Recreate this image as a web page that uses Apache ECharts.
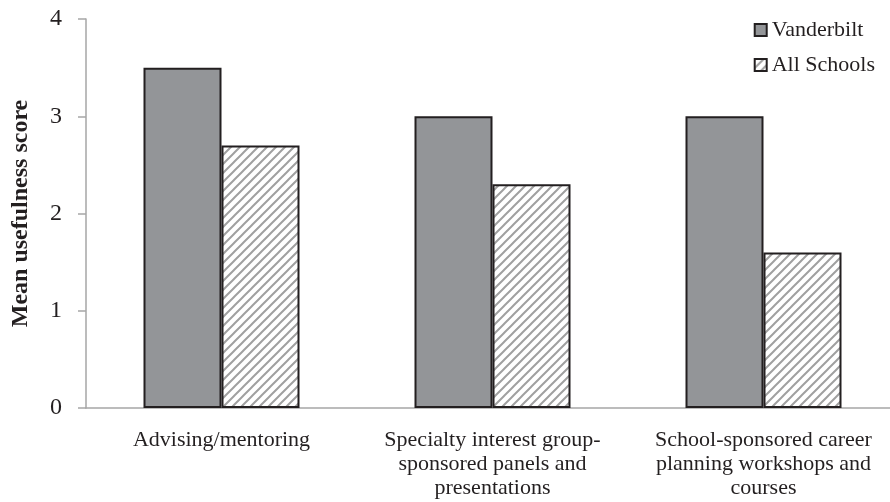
<!DOCTYPE html>
<html>
<head>
<meta charset="utf-8">
<script src="https://cdn.jsdelivr.net/npm/echarts@6/dist/echarts.min.js"></script>
<style>
  html, body { margin: 0; padding: 0; background: #fff; }
  #chart { width: 890px; height: 502px; }
</style>
</head>
<body>
<div id="chart"></div>
<script>
// data
var categories = [
  'Advising/mentoring',
  'Specialty interest group-\nsponsored panels and\npresentations',
  'School-sponsored career\nplanning workshops and\ncourses'
];
var vanderbilt = [3.5, 3.0, 3.0];
var allSchools = [2.7, 2.3, 1.6];
var yTicks = [0, 1, 2, 3, 4];

// diagonal hatch for "All Schools"
function hatch() {
  var c = document.createElement('canvas');
  c.width = 9;
  c.height = 9;
  var ctx = c.getContext('2d');
  ctx.fillStyle = '#fff';
  ctx.fillRect(0, 0, 9, 9);
  ctx.strokeStyle = '#a0a0a0';
  ctx.lineWidth = 2;
  ctx.beginPath();
  ctx.moveTo(-2, 11); ctx.lineTo(11, -2);
  ctx.moveTo(-2, 2); ctx.lineTo(2, -2);
  ctx.moveTo(7, 11); ctx.lineTo(11, 7);
  ctx.stroke();
  return c;
}

var font = '"Liberation Serif", "Times New Roman", serif';
var axisGray = '#a6a6a6';

var chart = echarts.init(document.getElementById('chart'));
chart.setOption({
  animation: false,
  textStyle: { fontFamily: font },
  grid: { left: 86, right: -9, top: 19, bottom: 94, outerBoundsMode: 'none', containLabel: false },
  legend: {
    orient: 'vertical',
    right: 10,
    top: 14,
    itemWidth: 12,
    itemHeight: 12,
    itemGap: 13,
    icon: 'rect',
    textStyle: { fontFamily: font, fontSize: 22, color: '#231f20' },
    data: ['Vanderbilt', 'All Schools']
  },
  xAxis: {
    type: 'category',
    data: categories,
    axisLine: { lineStyle: { color: axisGray, width: 1.5 } },
    axisTick: { length: 7, lineStyle: { color: axisGray, width: 1.5 } },
    axisLabel: {
      interval: 0,
      margin: 20,
      fontFamily: font,
      fontSize: 22,
      lineHeight: 24,
      color: '#231f20'
    }
  },
  yAxis: {
    type: 'value',
    min: yTicks[0],
    max: yTicks[yTicks.length - 1],
    interval: 1,
    name: 'Mean usefulness score',
    nameLocation: 'middle',
    nameGap: 53,
    nameTextStyle: { fontFamily: font, fontSize: 24, fontWeight: 'bold', color: '#231f20' },
    axisLine: { show: true, lineStyle: { color: axisGray, width: 1.5 } },
    axisTick: { show: true, length: 8, lineStyle: { color: axisGray, width: 1.5 } },
    splitLine: { show: false },
    axisLabel: { margin: 24, fontFamily: font, fontSize: 24, color: '#231f20' }
  },
  series: [
    {
      name: 'Vanderbilt',
      type: 'bar',
      data: vanderbilt,
      barWidth: 78,
      barGap: '0%',
      itemStyle: { color: '#939598', borderColor: '#231f20', borderWidth: 2 }
    },
    {
      name: 'All Schools',
      type: 'bar',
      data: allSchools,
      barWidth: 78,
      itemStyle: {
        color: { image: hatch(), repeat: 'repeat' },
        borderColor: '#231f20',
        borderWidth: 2
      }
    }
  ]
});
</script>
</body>
</html>
